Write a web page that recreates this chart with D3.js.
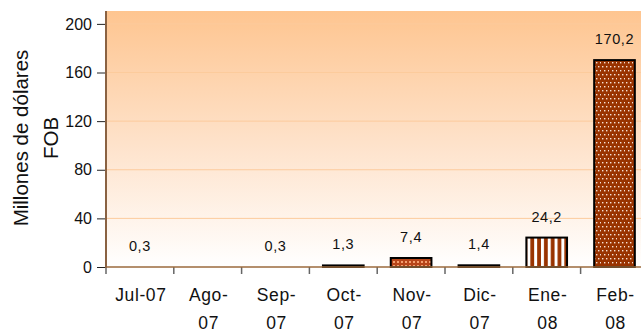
<!DOCTYPE html>
<html>
<head>
<meta charset="utf-8">
<script src="https://cdn.jsdelivr.net/npm/d3@7"></script>
<style>
  html, body { margin: 0; padding: 0; background: #fff; }
  svg { display: block; font-family: "Liberation Sans", Arial, sans-serif; }
</style>
</head>
<body>
<svg id="chart" width="641" height="334"></svg>
<script>
// ---- data ----
const categories = ["Jul-07", "Ago-07", "Sep-07", "Oct-07", "Nov-07", "Dic-07", "Ene-08", "Feb-08"];
const tickLines = [["Jul-07"], ["Ago-", "07"], ["Sep-", "07"], ["Oct-", "07"], ["Nov-", "07"], ["Dic-", "07"], ["Ene-", "08"], ["Feb-", "08"]];
const values = [0.3, null, 0.3, 1.3, 7.4, 1.4, 24.2, 170.2];
const valueLabels = ["0,3", "", "0,3", "1,3", "7,4", "1,4", "24,2", "170,2"];
const yTicks = [0, 40, 80, 120, 160, 200];
const yTitle = ["Millones de dólares", "FOB"];
// ---- styles per bar ----
const barFills = ["none", "none", "none", "#000", "url(#dotsSmall)", "#000", "url(#stripes)", "url(#dots)"];
const barStrokes = ["none", "none", "none", "#000", "#000", "#000", "#000", "#000"];

const svg = d3.select("#chart");
const mLeft = 106, mTop = 11, mBottom = 267, step = 67.8;
const x = d3.scaleBand().domain(categories).range([mLeft, mLeft + step * categories.length])
  .paddingInner(0.4).paddingOuter(0.2);
const y = d3.scaleLinear().domain([0, 210.6]).range([mBottom, mTop]);

const defs = svg.append("defs");
const grad = defs.append("linearGradient").attr("id", "bg").attr("x1", 0).attr("y1", 0).attr("x2", 0).attr("y2", 1);
grad.append("stop").attr("offset", "0%").attr("stop-color", "#FEC590");
grad.append("stop").attr("offset", "55%").attr("stop-color", "#FEE4CE");
grad.append("stop").attr("offset", "100%").attr("stop-color", "#FFFFFF");

const brown = "#993300";
const dots = defs.append("pattern").attr("id", "dots").attr("patternUnits", "userSpaceOnUse")
  .attr("width", 8).attr("height", 8).attr("x", 1).attr("y", 1);
dots.append("rect").attr("width", 8).attr("height", 8).attr("fill", brown);
[[1, 1], [5, 1], [3, 5], [7, 5]].forEach(p => {
  dots.append("rect").attr("x", p[0]).attr("y", p[1]).attr("width", 1.4).attr("height", 1.4).attr("fill", "#F7E2D6");
});

const dotsSmall = defs.append("pattern").attr("id", "dotsSmall").attr("patternUnits", "userSpaceOnUse")
  .attr("width", 4).attr("height", 4);
dotsSmall.append("rect").attr("width", 4).attr("height", 4).attr("fill", "#B8461A");
dotsSmall.append("rect").attr("x", 1).attr("y", 1).attr("width", 2).attr("height", 2).attr("fill", "#F5A070");

const stripes = defs.append("pattern").attr("id", "stripes").attr("patternUnits", "userSpaceOnUse")
  .attr("width", 6.8).attr("height", 10).attr("x", x("Ene-08") + 1);
stripes.append("rect").attr("width", 6.8).attr("height", 10).attr("fill", "#fff");
stripes.append("rect").attr("x", 3).attr("width", 3.8).attr("height", 10).attr("fill", brown);

// background
svg.append("rect").attr("x", mLeft).attr("y", mTop).attr("width", 641 - mLeft).attr("height", mBottom - mTop)
  .attr("fill", "url(#bg)");

// gridlines
svg.append("g").selectAll("line").data(yTicks.filter(d => d > 0)).join("line")
  .attr("x1", mLeft).attr("x2", 641).attr("y1", d => y(d)).attr("y2", d => y(d))
  .attr("stroke", "#FCCB9C").attr("stroke-width", 1);

// bars
svg.append("g").selectAll("rect").data(categories.map((c, i) => ({ c, v: values[i], i })).filter(d => d.v != null))
  .join("rect")
  .attr("x", d => x(d.c)).attr("width", x.bandwidth())
  .attr("y", d => y(d.v)).attr("height", d => y(0) - y(d.v))
  .attr("fill", d => barFills[d.i]).attr("stroke", d => barStrokes[d.i]).attr("stroke-width", 2);

// value labels
svg.append("g").selectAll("text").data(categories.map((c, i) => ({ c, v: values[i], t: valueLabels[i] })).filter(d => d.v != null))
  .join("text")
  .attr("x", d => x(d.c) + x.bandwidth() / 2).attr("y", d => y(d.v) - 16)
  .attr("text-anchor", "middle").attr("font-size", 14.5).attr("letter-spacing", 0.6).attr("fill", "#111")
  .text(d => d.t);

// y axis
const yAxis = svg.append("g").attr("transform", `translate(${mLeft},0)`)
  .call(d3.axisLeft(y).tickValues(yTicks).tickSize(9).tickPadding(5).tickFormat(d3.format("d")));
yAxis.select(".domain").remove();
yAxis.selectAll(".tick line").attr("stroke", "#222");
yAxis.selectAll(".tick text").attr("font-size", 16).attr("fill", "#111")
  .attr("font-family", "'Liberation Sans', Arial, sans-serif");

// x axis boundary ticks
const bounds = categories.map(c => x(c) - (x.step() - x.bandwidth()) / 2);
svg.append("g").selectAll("line").data(bounds).join("line")
  .attr("x1", d => d).attr("x2", d => d).attr("y1", mBottom).attr("y2", mBottom + 7)
  .attr("stroke", "#666").attr("stroke-width", 1.5);

// axis lines
svg.append("line").attr("x1", mLeft).attr("x2", 641).attr("y1", mBottom).attr("y2", mBottom)
  .attr("stroke", "#9B6A3C").attr("stroke-width", 1.5);
svg.append("line").attr("x1", mLeft).attr("x2", mLeft).attr("y1", mTop).attr("y2", mBottom + 1)
  .attr("stroke", "#8A6242").attr("stroke-width", 2);

// x labels
const xl = svg.append("g").selectAll("text").data(categories.map((c, i) => ({ c, lines: tickLines[i] })))
  .join("text")
  .attr("text-anchor", "middle").attr("font-size", 17.5).attr("letter-spacing", 0.6).attr("fill", "#111");
xl.selectAll("tspan").data(d => d.lines.map((l, k) => ({ l, k, c: d.c }))).join("tspan")
  .attr("x", d => x(d.c) + x.bandwidth() / 2 + 1)
  .attr("y", d => 301 + d.k * 28)
  .text(d => d.l);

// y title
svg.append("g").selectAll("text").data(yTitle).join("text")
  .attr("transform", (d, i) => `translate(${28 + i * 30},138) rotate(-90)`)
  .attr("text-anchor", "middle").attr("font-size", 20.5).attr("fill", "#111")
  .text(d => d);
</script>
</body>
</html>
